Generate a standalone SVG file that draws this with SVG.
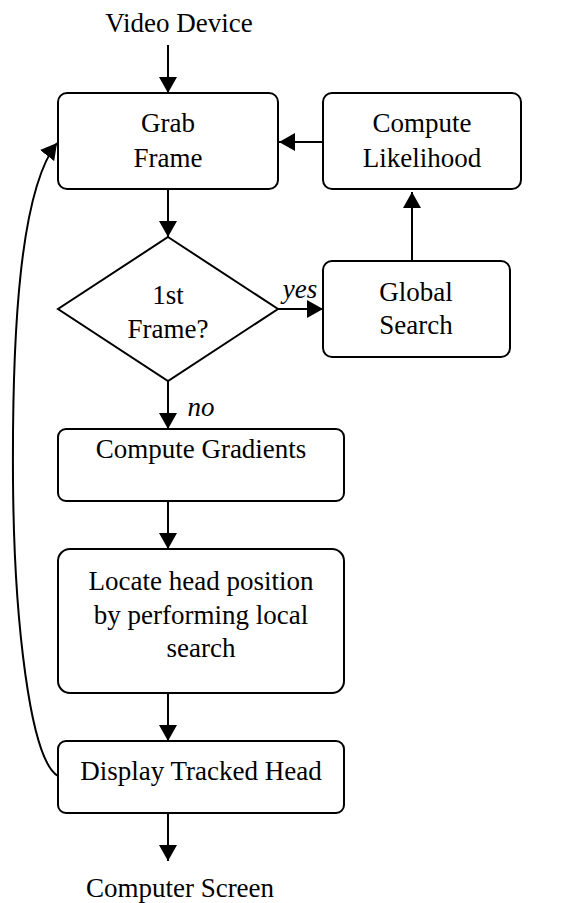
<svg xmlns="http://www.w3.org/2000/svg" width="568" height="903" viewBox="0 0 568 903">
<style>
.t{font-size:27px;fill:#000}
.lbl{font-style:italic}
.box{fill:#fff;stroke:#000;stroke-width:2}
.edge{fill:none;stroke:#000;stroke-width:2}
</style>
<defs>
<marker id="ah" markerUnits="userSpaceOnUse" markerWidth="17" markerHeight="19" refX="16" refY="9" orient="auto">
<path d="M0,0 L16,9 L0,18 z" fill="#000"/>
</marker>
</defs>
<rect width="568" height="903" fill="#fff"/>
<g id="connectors">
<path class="edge" d="M168 45 V93" marker-end="url(#ah)"/>
<path class="edge" d="M323 142 H279" marker-end="url(#ah)"/>
<path class="edge" d="M168 189 V237" marker-end="url(#ah)"/>
<path class="edge" d="M278 309 H323" marker-end="url(#ah)"/>
<path class="edge" d="M412 261 V192" marker-end="url(#ah)"/>
<path class="edge" d="M168 381 V429" marker-end="url(#ah)"/>
<path class="edge" d="M168 501 V549" marker-end="url(#ah)"/>
<path class="edge" d="M168 693 V741" marker-end="url(#ah)"/>
<path class="edge" d="M168 813 V861" marker-end="url(#ah)"/>
<path class="edge" d="M58 776 C30 760, 14 620, 13 480 C12 330, 20 190, 57 143" marker-end="url(#ah)"/>
<text class="t lbl" font-family="Liberation Serif" text-anchor="middle" x="300" y="298">yes</text>
<text class="t lbl" font-family="Liberation Serif" text-anchor="middle" x="201" y="416">no</text>
</g>
<g id="video-device"><text class="t" font-family="Liberation Serif" text-anchor="middle" x="179" y="32">Video Device</text></g>
<g id="grab-frame">
<rect class="box" x="58" y="93" width="220" height="96" rx="9"/>
<text class="t" font-family="Liberation Serif" text-anchor="middle" x="168" y="132">Grab</text>
<text class="t" font-family="Liberation Serif" text-anchor="middle" x="168" y="167">Frame</text>
</g>
<g id="compute-likelihood">
<rect class="box" x="323" y="93" width="198" height="96" rx="9"/>
<text class="t" font-family="Liberation Serif" text-anchor="middle" x="422" y="132">Compute</text>
<text class="t" font-family="Liberation Serif" text-anchor="middle" x="422" y="167">Likelihood</text>
</g>
<g id="first-frame">
<polygon class="box" points="168,237 278,309 168,381 58,309"/>
<text class="t" font-family="Liberation Serif" text-anchor="middle" x="168" y="304">1st</text>
<text class="t" font-family="Liberation Serif" text-anchor="middle" x="168" y="338">Frame?</text>
</g>
<g id="global-search">
<rect class="box" x="323" y="261" width="187" height="96" rx="9"/>
<text class="t" font-family="Liberation Serif" text-anchor="middle" x="416" y="301">Global</text>
<text class="t" font-family="Liberation Serif" text-anchor="middle" x="416" y="334">Search</text>
</g>
<g id="compute-gradients">
<rect class="box" x="58" y="429" width="286" height="72" rx="8"/>
<text class="t" font-family="Liberation Serif" text-anchor="middle" x="201" y="458">Compute Gradients</text>
</g>
<g id="locate-head">
<rect class="box" x="58" y="549" width="286" height="144" rx="12"/>
<text class="t" font-family="Liberation Serif" text-anchor="middle" x="201" y="590">Locate head position</text>
<text class="t" font-family="Liberation Serif" text-anchor="middle" x="201" y="624">by performing local</text>
<text class="t" font-family="Liberation Serif" text-anchor="middle" x="201" y="657">search</text>
</g>
<g id="display-head">
<rect class="box" x="58" y="741" width="286" height="72" rx="8"/>
<text class="t" font-family="Liberation Serif" text-anchor="middle" x="201" y="780">Display Tracked Head</text>
</g>
<g id="computer-screen"><text class="t" font-family="Liberation Serif" text-anchor="middle" x="180" y="897">Computer Screen</text></g>
</svg>
